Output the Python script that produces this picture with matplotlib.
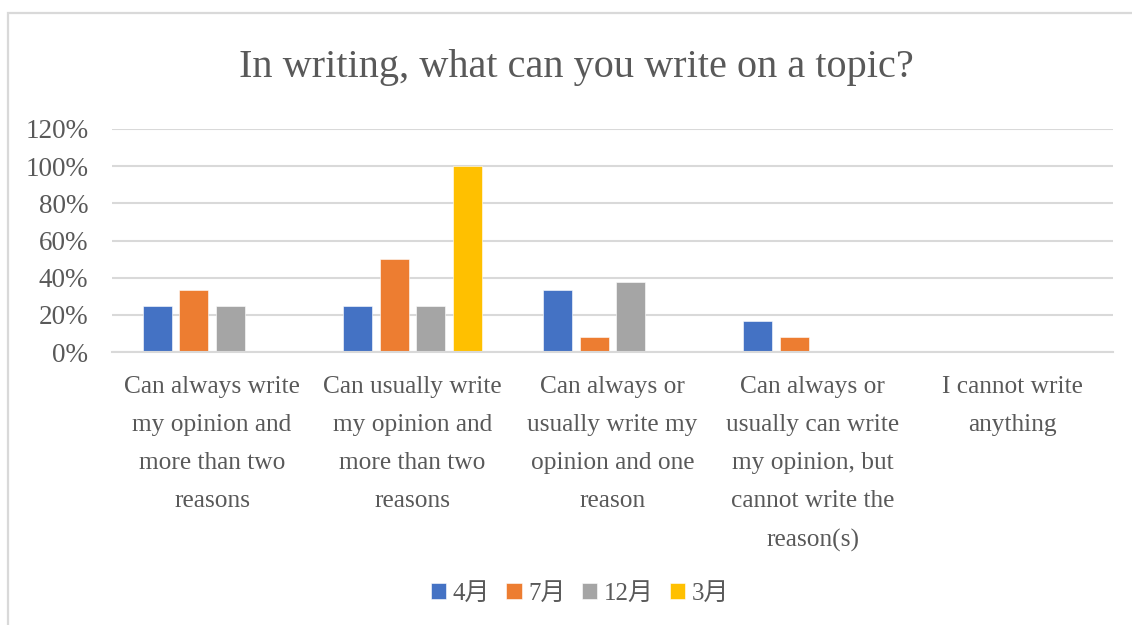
import numpy as np
import matplotlib

matplotlib.use("Agg")
import matplotlib.pyplot as plt
from matplotlib.patches import Rectangle

# ---------------------------------------------------------------------
# Survey data: share of answers per month
# ---------------------------------------------------------------------
CATEGORIES = [
    "Can always write\nmy opinion and\nmore than two\nreasons",
    "Can usually write\nmy opinion and\nmore than two\nreasons",
    "Can always or\nusually write my\nopinion and one\nreason",
    "Can always or\nusually can write\nmy opinion, but\ncannot write the\nreason(s)",
    "I cannot write\nanything",
]
MONTHS = ["4月", "7月", "12月", "3月"]
APR = [0.25, 0.25, 0.333, 0.167, 0.0]
JUL = [0.333, 0.50, 0.083, 0.083, 0.0]
DEC = [0.25, 0.25, 0.375, 0.0, 0.0]
MAR = [0.0, 1.00, 0.0, 0.0, 0.0]
COLORS = ["#4472C4", "#ED7D31", "#A5A5A5", "#FFC000"]
YTICKS = [0.0, 0.2, 0.4, 0.6, 0.8, 1.0, 1.2]

TEXT_GRAY = "#595959"
GRID_GRAY = "#D9D9D9"
FONT = ["Liberation Serif", "Noto Sans CJK JP"]

plt.rcParams["font.family"] = FONT

fig = plt.figure(figsize=(11.32, 6.25), dpi=100)
fig.patch.set_facecolor("white")

# chart area border (only left and top edges fall inside the image)
fig.patches.append(Rectangle((8 / 1132, -0.1), 1.2, (1 - 13 / 625) + 0.1,
                             transform=fig.transFigure, fill=False,
                             edgecolor=GRID_GRAY, linewidth=1.6))

ax = fig.add_axes([112 / 1132, 1 - 352 / 625, (1113 - 112) / 1132, (352 - 129) / 625])

series = [APR, JUL, DEC, MAR]
x = np.arange(len(CATEGORIES))
slot = 0.1825
width = 0.145
for k, (vals, col, name) in enumerate(zip(series, COLORS, MONTHS)):
    offs = (k - 1.5) * slot
    ax.bar(x + offs, vals, width=width, color=col, label=name, zorder=3,
           edgecolor="white", linewidth=0.4)

ax.set_xlim(-0.5, len(CATEGORIES) - 0.5)
ax.set_ylim(0, 1.2)
ax.set_yticks(YTICKS)
ax.set_yticklabels([f"{int(round(v * 100))}%" for v in YTICKS])
ax.grid(axis="y", color=GRID_GRAY, linewidth=1.5, zorder=0)
ax.set_xticks(x)
ax.set_xticklabels(CATEGORIES, linespacing=1.95, va="top")
ax.tick_params(axis="x", length=0, pad=17, labelsize=18.3, labelcolor=TEXT_GRAY)
ax.tick_params(axis="y", length=0, pad=17, labelsize=19.5, labelcolor=TEXT_GRAY)
for side in ["top", "right", "left"]:
    ax.spines[side].set_visible(False)
ax.spines["bottom"].set_color(GRID_GRAY)
ax.spines["bottom"].set_linewidth(1.5)
ax.spines["bottom"].set_zorder(4)

fig.text(576 / 1132, 1 - 67 / 625, "In writing, what can you write on a topic?",
         ha="center", va="center", fontsize=29, color=TEXT_GRAY)

leg = fig.legend(loc="center", bbox_to_anchor=(580 / 1132, 1 - 594 / 625), ncol=4,
                 frameon=False, fontsize=18, handlelength=0.62, handleheight=0.62,
                 handletextpad=0.25, columnspacing=0.65)
for t in leg.get_texts():
    t.set_color(TEXT_GRAY)

fig.savefig("out.png", dpi=100)
